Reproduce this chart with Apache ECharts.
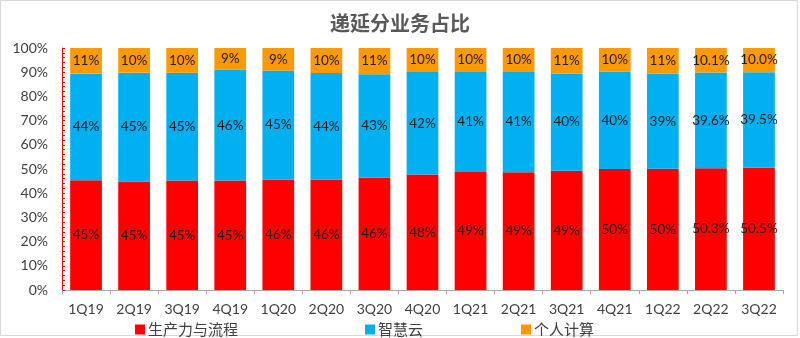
<!DOCTYPE html>
<html>
<head>
<meta charset="utf-8">
<script src="https://cdn.jsdelivr.net/npm/echarts@6/dist/echarts.min.js"></script>
<style>html,body{margin:0;padding:0;background:#fff}#c{width:800px;height:338px}</style>
</head>
<body>
<div id="c"></div>
<script>
var title = '递延分业务占比';
var categories = ['1Q19','2Q19','3Q19','4Q19','1Q20','2Q20','3Q20','4Q20','1Q21','2Q21','3Q21','4Q21','1Q22','2Q22','3Q22'];
var seriesNames = ['生产力与流程','智慧云','个人计算'];
var productivity = [45.4,44.8,45.2,45.2,45.6,45.6,46.4,47.7,48.8,48.7,49.3,50.0,50.1,50.3,50.5];
var cloud        = [44.0,45.0,44.6,45.8,45.1,44.1,42.8,42.4,41.3,41.4,40.2,40.3,39.3,39.6,39.5];
var personal     = [10.6,10.2,10.2,9.0,9.3,10.3,10.8,9.9,9.9,9.9,10.5,9.7,10.6,10.1,10.0];
var labelDecimals = [0,0,0,0,0,0,0,0,0,0,0,0,0,1,1];
var yTicks = [0,10,20,30,40,50,60,70,80,90,100];

var colors = ['#FF0000','#00B0F0','#FF9900'];
var lblFont = 'Lato, "Noto Sans", sans-serif';

function mkSeries(name, data, color){
  return {
    name: name, type: 'bar', stack: 'total', data: data,
    barWidth: '66%',
    itemStyle: {color: color},
    label: {
      show: true, position: 'inside', color: '#1a1a1a',
      fontSize: 13.5, fontFamily: lblFont,
      formatter: function(p){ return p.value.toFixed(labelDecimals[p.dataIndex]) + '%'; }
    },
    emphasis: {disabled: true}
  };
}

var chart = echarts.init(document.getElementById('c'), null, {renderer: 'canvas'});
chart.setOption({
  animation: false,
  backgroundColor: '#fff',
  title: {
    text: title, left: 'center', top: 8,
    textStyle: {fontSize: 20, fontWeight: 'bold', color: '#595959', fontFamily: '"Noto Sans CJK SC", sans-serif'}
  },
  graphic: [{
    type: 'rect', shape: {x: 0.5, y: 0.5, width: 797, height: 335},
    style: {fill: 'none', stroke: '#d9d9d9', lineWidth: 1}, silent: true
  }],
  legend: [
    {data: [seriesNames[0]], left: 130, top: 317},
    {data: [seriesNames[1]], left: 360, top: 317},
    {data: [seriesNames[2]], left: 516, top: 317}
  ].map(function(l){
    l.itemWidth = 10; l.itemHeight = 10; l.icon = 'rect'; l.itemGap = 4;
    l.textStyle = {fontSize: 15, color: '#404040', fontFamily: '"Noto Sans CJK SC", sans-serif', padding: [0,0,0,-2]};
    return l;
  }),
  grid: {left: 62, right: 17, top: 48, bottom: 48},
  xAxis: {
    type: 'category', data: categories,
    axisLine: {lineStyle: {color: '#a6a6a6', width: 1}},
    axisTick: {show: true, length: 4, lineStyle: {color: '#a6a6a6'}},
    axisLabel: {color: '#404040', fontSize: 14, fontFamily: lblFont, margin: 12}
  },
  yAxis: {
    type: 'value', min: 0, max: 100, interval: 10,
    axisLine: {show: true, lineStyle: {color: '#FF0000', width: 1}},
    axisTick: {show: true, inside: true, length: 3, lineStyle: {color: '#FF0000'}},
    minorTick: {show: true, splitNumber: 5, length: 3, lineStyle: {color: '#FF0000'}},
    splitLine: {show: false},
    axisLabel: {
      color: '#404040', fontSize: 14, fontFamily: lblFont, margin: 14,
      customValues: yTicks,
      formatter: function(v){ return v + '%'; }
    }
  },
  series: [
    mkSeries(seriesNames[0], productivity, colors[0]),
    mkSeries(seriesNames[1], cloud, colors[1]),
    mkSeries(seriesNames[2], personal, colors[2])
  ]
});
</script>
</body>
</html>
